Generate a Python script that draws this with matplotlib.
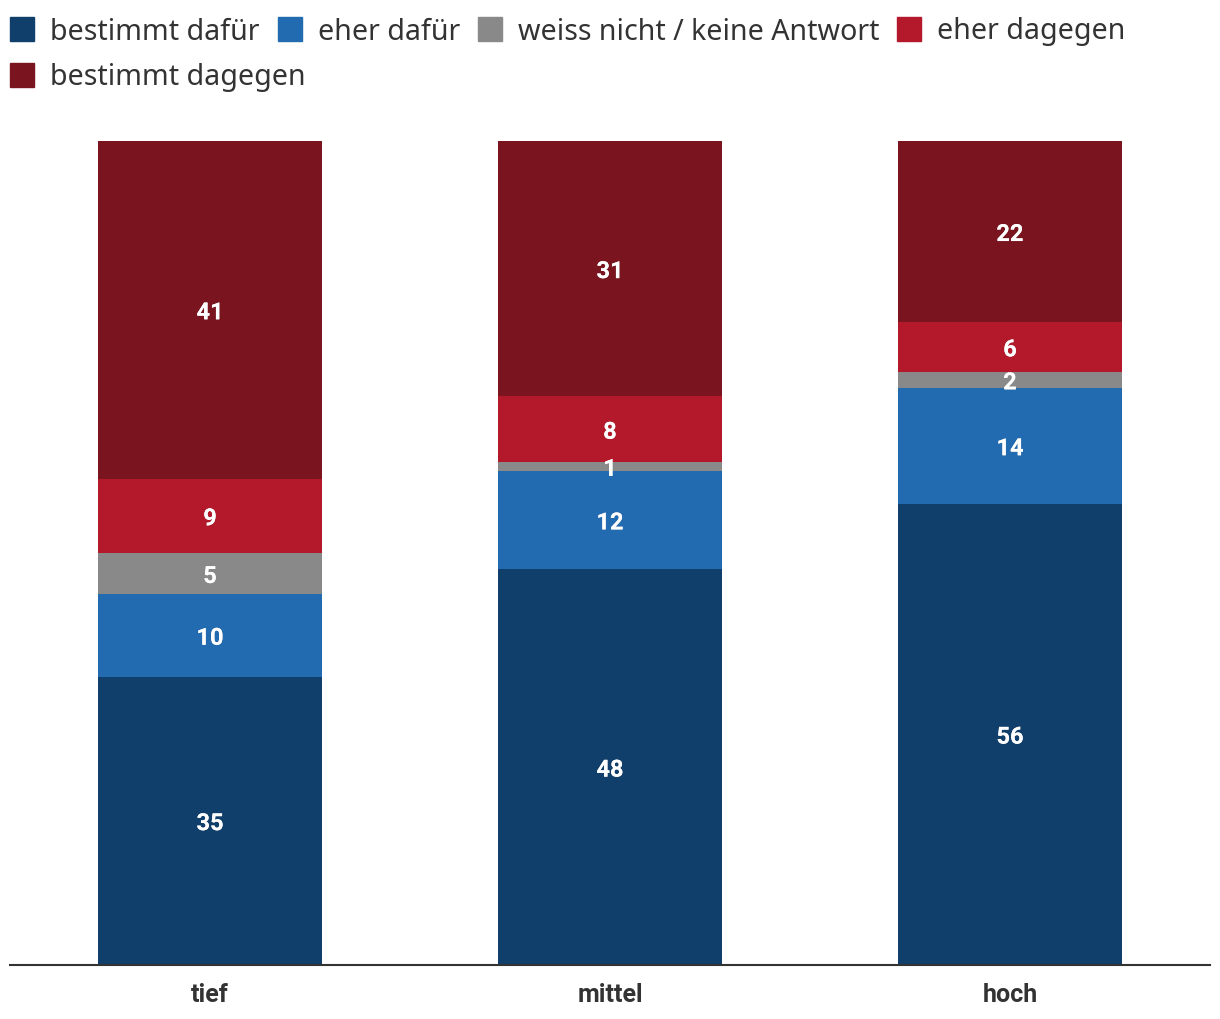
import matplotlib.pyplot as plt
import matplotlib.patheffects as pe
from matplotlib.patches import Rectangle
import numpy as np

plt.rcParams['font.family'] = ['Noto Sans', 'DejaVu Sans']

# Data
categories = ['tief', 'mittel', 'hoch']
series_names = ['bestimmt dafür', 'eher dafür', 'weiss nicht / keine Antwort',
                'eher dagegen', 'bestimmt dagegen']
bestimmt_dafuer = [35, 48, 56]
eher_dafuer = [10, 12, 14]
weiss_nicht = [5, 1, 2]
eher_dagegen = [9, 8, 6]
bestimmt_dagegen = [41, 31, 22]
colors = ['#0f3f6a', '#226bb0', '#898989', '#b3192b', '#7a1520']

series = [bestimmt_dafuer, eher_dafuer, weiss_nicht, eher_dagegen, bestimmt_dagegen]

W, H = 1220, 1020
fig = plt.figure(figsize=(W / 100, H / 100), dpi=100)
ax = fig.add_axes([10 / W, 1 - 966 / H, 1200 / W, 824 / H])

bold_font = ['Roboto', 'DejaVu Sans']
x = np.arange(len(categories))
bottom = np.zeros(len(categories))
shadow = [pe.withSimplePatchShadow(offset=(0, 0), shadow_rgbFace='#000000', alpha=0.35),
          pe.Normal()]
for vals, col in zip(series, colors):
    vals = np.array(vals, dtype=float)
    ax.bar(x, vals, 0.56, bottom=bottom, color=col, linewidth=0)
    for xi, b, v in zip(x, bottom, vals):
        ax.text(xi, b + v / 2 - 0.35, f'{int(v)}', ha='center', va='center', color='white',
                fontsize=17, fontweight='bold', family=bold_font, path_effects=shadow)
    bottom += vals

ax.set_xlim(-0.5, 2.5)
ax.set_ylim(0, 100)
ax.set_yticks([])
ax.set_xticks(x)
ax.set_xticklabels(categories, fontsize=18, fontweight='bold', family=bold_font,
                   color='#333333')
ax.tick_params(axis='x', length=0, pad=12)
for s in ['top', 'right', 'left']:
    ax.spines[s].set_visible(False)
ax.spines['bottom'].set_color('#333333')
ax.spines['bottom'].set_linewidth(1.5)

# legend drawn manually in pixel coords
fig.canvas.draw()
renderer = fig.canvas.get_renderer()
px, row_y = 10, [30, 76]
row = 0
for name, col in zip(series_names, colors):
    if name == 'bestimmt dagegen':
        row, px = 1, 10
    y = row_y[row]
    fig.patches.append(Rectangle((px / W, 1 - (y + 12) / H), 24 / W, 24 / H,
                                 transform=fig.transFigure, color=col))
    t = fig.text((px + 40) / W, 1 - (y + 2) / H, name, fontsize=20.6, color='#333333',
                 va='center', ha='left')
    bb = t.get_window_extent(renderer)
    px = px + 40 + bb.width + 18

fig.savefig('out.png', dpi=100)
